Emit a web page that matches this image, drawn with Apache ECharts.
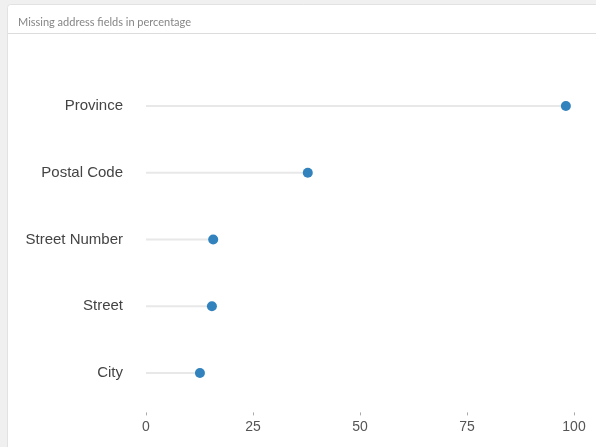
<!DOCTYPE html>
<html>
<head>
<meta charset="utf-8">
<script src="https://cdn.jsdelivr.net/npm/echarts@6/dist/echarts.min.js"></script>
<style>
html,body{margin:0;padding:0;background:#f0f0f0;}
#chart{width:596px;height:447px;}
</style>
</head>
<body>
<div id="chart"></div>
<script>
var categories = ['Province', 'Postal Code', 'Street Number', 'Street', 'City'];
var values = [98.1, 37.8, 15.7, 15.4, 12.6];
var xTicks = [0, 25, 50, 75, 100];
var titleText = 'Missing address fields in percentage';

var chart = echarts.init(document.getElementById('chart'), null, {renderer: 'canvas'});
chart.setOption({
  backgroundColor: '#f0f0f0',
  animation: false,
  graphic: [
    {type: 'rect', z: -10, shape: {x: 7.5, y: 4.5, width: 600, height: 460, r: 3},
     style: {fill: '#ffffff', stroke: '#e2e2e2', lineWidth: 1}},
    {type: 'line', z: -9, shape: {x1: 8, y1: 33.5, x2: 596, y2: 33.5},
     style: {stroke: '#dcdcdc', lineWidth: 1}}
  ],
  title: {
    text: titleText, left: 13, top: 12,
    textStyle: {fontSize: 11, fontWeight: 'normal', color: '#858585', fontFamily: 'Lato'}
  },
  grid: {left: 146, right: 22, top: 72.6, bottom: 40.6},
  xAxis: {
    type: 'value', min: xTicks[0], max: xTicks[xTicks.length - 1], interval: 25,
    offset: 6,
    axisLine: {show: false},
    axisTick: {show: true, length: 3, lineStyle: {color: '#aaaaaa'}},
    splitLine: {show: false},
    axisLabel: {fontSize: 14, color: '#555555', margin: 8, fontFamily: 'Arial'}
  },
  yAxis: {
    type: 'category', data: categories, inverse: true,
    axisLine: {show: false}, axisTick: {show: false}, splitLine: {show: false},
    axisLabel: {fontSize: 15, color: '#444444', margin: 23, fontFamily: 'Arial'}
  },
  series: [
    {type: 'bar', data: values, barWidth: 2, barGap: '-100%',
     itemStyle: {color: '#e8e8e8'}, silent: true},
    {type: 'scatter', data: values, symbolSize: 10,
     itemStyle: {color: '#3182bd', opacity: 1}, z: 5}
  ]
});
</script>
</body>
</html>
